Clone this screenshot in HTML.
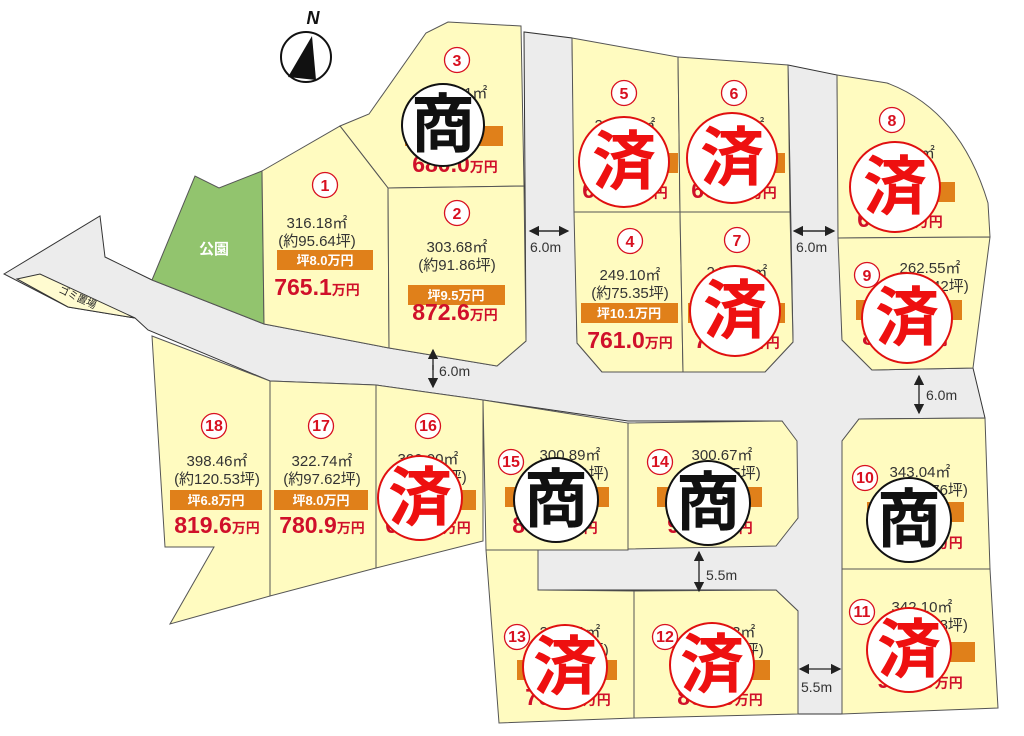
<!DOCTYPE html>
<html><head><meta charset="utf-8"><style>
html,body{margin:0;padding:0;background:#fff;}
svg{display:block;}
text{font-family:"Liberation Sans","Noto Sans CJK JP",sans-serif;}
.lot{fill:#fffbc0;stroke:#555;stroke-width:1;}
.num{fill:#fff;stroke:#d81020;stroke-width:1.3;}
.nt{fill:#d81020;font-size:16px;font-weight:bold;text-anchor:middle;}
.ar{fill:#333;font-size:15px;text-anchor:middle;}
.bar{fill:#e0801a;}
.bt{fill:#fff;font-size:13px;font-weight:bold;text-anchor:middle;}
.pr{fill:#d0102a;font-size:23px;font-weight:bold;text-anchor:middle;}
.dim{fill:#333;font-size:14px;}
</style></head><body>
<svg width="1024" height="736" viewBox="0 0 1024 736" xmlns="http://www.w3.org/2000/svg">
<defs>
<marker id="ah" markerWidth="8" markerHeight="8" refX="7" refY="4" orient="auto"><path d="M0,0 L8,4 L0,8 z" fill="#222"/></marker>
</defs>
<polygon fill="#ececec" stroke="#333" stroke-width="1" points="4,274 100,216 105,257 152,280 264,324 389,348 497,366 526,341 524,32 572,38 577,343 602,372 765,372 793,342 788,65 837,75 842,340 872,370 973,368 985,418 859,419 842,441 842,714 798,714 798,611 776,590 538,590 538,550 776,544 798,518 795,441 782,421 628,421 483,400 376,385 270,381 148,330 135,318 68,307"/>
<polygon fill="#fffbd0" stroke="#333" stroke-width="1" points="17,279 40,274 135,318 68,307"/>
<text x="0" y="0" font-size="10" fill="#222" transform="translate(58,292) rotate(25)">ゴミ置場</text>
<polygon fill="#92c46e" stroke="#555" points="152,280 195,176 219,188 262,171 264,324"/>
<text x="214" y="254" fill="#fff" font-size="15" font-weight="bold" text-anchor="middle">公園</text>
<polygon class="lot" points="340,126 369,114 426,33 448,22 521,26 524,186 388,188"/>
<polygon class="lot" points="262,171 340,126 388,188 389,348 264,324"/>
<polygon class="lot" points="388,188 524,186 526,341 497,366 389,348"/>
<polygon class="lot" points="572,38 678,57 680,212 574,212"/>
<polygon class="lot" points="678,57 788,65 790,212 680,212"/>
<polygon class="lot" points="574,212 680,212 683,372 602,372 577,343"/>
<polygon class="lot" points="680,212 790,212 793,342 765,372 683,372"/>
<path class="lot" d="M837,75 L887,83 Q960,110 988,203 L990,237 L838,238 Z"/>
<polygon class="lot" points="838,238 990,237 973,368 872,370 842,340"/>
<polygon class="lot" points="152,336 270,381 270,596 170,624 214,547 165,547"/>
<polygon class="lot" points="270,381 376,385 376,568 270,596"/>
<polygon class="lot" points="376,385 483,400 483,541 376,568"/>
<polygon class="lot" points="483,400 628,423 628,550 486,550"/>
<polygon class="lot" points="628,423 782,421 797,441 798,518 776,546 628,549"/>
<polygon class="lot" points="486,550 538,550 538,590 634,591 634,718 499,723"/>
<polygon class="lot" points="634,591 776,590 798,611 798,714 634,718"/>
<polygon class="lot" points="842,441 859,419 985,418 990,569 842,569"/>
<polygon class="lot" points="842,569 990,569 998,708 842,714"/>
<circle cx="306" cy="57" r="25" fill="#fff" stroke="#111" stroke-width="2"/>
<polygon points="312,36 288,77 316,80" fill="#111"/>
<text x="313" y="24" font-size="18" font-weight="bold" font-style="italic" text-anchor="middle" fill="#111">N</text>

<g>
<circle class="num" cx="325" cy="185" r="12.5"/><text class="nt" x="325" y="191">1</text>
<text class="ar" x="317" y="228">316.18㎡</text><text class="ar" x="317" y="246">(約95.64坪)</text>
<rect class="bar" x="277" y="250" width="96" height="20"/><text class="bt" x="325" y="265">坪8.0万円</text>
<text class="pr" x="317" y="295">765.1<tspan font-size="14">万円</tspan></text>

<circle class="num" cx="457" cy="213" r="12.5"/><text class="nt" x="457" y="219">2</text>
<text class="ar" x="457" y="252">303.68㎡</text><text class="ar" x="457" y="270">(約91.86坪)</text>
<rect class="bar" x="408" y="285" width="97" height="20"/><text class="bt" x="456" y="300">坪9.5万円</text>
<text class="pr" x="455" y="320">872.6<tspan font-size="14">万円</tspan></text>

<circle class="num" cx="457" cy="60" r="12.5"/><text class="nt" x="457" y="66">3</text>
<text class="ar" x="457" y="98">340.21㎡</text><rect class="bar" x="405" y="126" width="98" height="20"/>
<text class="pr" x="455" y="172">680.0<tspan font-size="14">万円</tspan></text>

<circle class="num" cx="630" cy="241" r="12.5"/><text class="nt" x="630" y="247">4</text>
<text class="ar" x="630" y="280">249.10㎡</text><text class="ar" x="630" y="298">(約75.35坪)</text>
<rect class="bar" x="581" y="303" width="97" height="20"/><text class="bt" x="629" y="318">坪10.1万円</text>
<text class="pr" x="630" y="348">761.0<tspan font-size="14">万円</tspan></text>

<circle class="num" cx="624" cy="93" r="12.5"/><text class="nt" x="624" y="99">5</text>
<text class="ar" x="625" y="130">262.41㎡</text><rect class="bar" x="581" y="153" width="97" height="20"/>
<text class="pr" x="625" y="198">660.0<tspan font-size="14">万円</tspan></text>

<circle class="num" cx="734" cy="93" r="12.5"/><text class="nt" x="734" y="99">6</text>
<text class="ar" x="734" y="130">262.41㎡</text><rect class="bar" x="688" y="153" width="97" height="20"/>
<text class="pr" x="734" y="198">660.0<tspan font-size="14">万円</tspan></text>

<circle class="num" cx="737" cy="240" r="12.5"/><text class="nt" x="737" y="246">7</text>
<text class="ar" x="737" y="277">249.10㎡</text><rect class="bar" x="688" y="303" width="97" height="20"/>
<text class="pr" x="737" y="348">761.0<tspan font-size="14">万円</tspan></text>

<circle class="num" cx="892" cy="120" r="12.5"/><text class="nt" x="892" y="126">8</text>
<text class="ar" x="905" y="158">290.11㎡</text><rect class="bar" x="858" y="182" width="97" height="20"/>
<text class="pr" x="900" y="227">690.0<tspan font-size="14">万円</tspan></text>

<circle class="num" cx="867" cy="275" r="12.5"/><text class="nt" x="867" y="281">9</text>
<text class="ar" x="930" y="273">262.55㎡</text><text class="ar" x="930" y="291">(約79.42坪)</text>
<rect class="bar" x="856" y="300" width="106" height="20"/>
<text class="pr" x="905" y="345">800.0<tspan font-size="14">万円</tspan></text>

<circle class="num" cx="865" cy="478" r="12.5"/><text class="nt" x="865" y="483" font-size="14">10</text>
<text class="ar" x="920" y="477">343.04㎡</text><text class="ar" x="925" y="495">(約103.76坪)</text>
<rect class="bar" x="867" y="502" width="97" height="20"/>
<text class="pr" x="920" y="548">900.0<tspan font-size="14">万円</tspan></text>

<circle class="num" cx="862" cy="612" r="12.5"/><text class="nt" x="862" y="617" font-size="14">11</text>
<text class="ar" x="922" y="612">342.10㎡</text><text class="ar" x="925" y="630">(約103.48坪)</text>
<rect class="bar" x="873" y="642" width="102" height="20"/>
<text class="pr" x="920" y="688">900.0<tspan font-size="14">万円</tspan></text>

<circle class="num" cx="665" cy="637" r="12.5"/><text class="nt" x="665" y="642" font-size="14">12</text>
<text class="ar" x="725" y="637">300.13㎡</text><text class="ar" x="725" y="655">(約90.78坪)</text>
<rect class="bar" x="672" y="660" width="98" height="20"/>
<text class="pr" x="720" y="705">800.0<tspan font-size="14">万円</tspan></text>

<circle class="num" cx="517" cy="637" r="12.5"/><text class="nt" x="517" y="642" font-size="14">13</text>
<text class="ar" x="570" y="637">293.91㎡</text><text class="ar" x="570" y="655">(約88.90坪)</text>
<rect class="bar" x="517" y="660" width="100" height="20"/>
<text class="pr" x="568" y="705">700.0<tspan font-size="14">万円</tspan></text>

<circle class="num" cx="660" cy="462" r="12.5"/><text class="nt" x="660" y="467" font-size="14">14</text>
<text class="ar" x="722" y="460">300.67㎡</text><text class="ar" x="722" y="478">(約90.95坪)</text>
<rect class="bar" x="657" y="487" width="105" height="20"/>
<text class="pr" x="710" y="533">900.0<tspan font-size="14">万円</tspan></text>

<circle class="num" cx="511" cy="462" r="12.5"/><text class="nt" x="511" y="467" font-size="14">15</text>
<text class="ar" x="570" y="460">300.89㎡</text><text class="ar" x="570" y="478">(約91.01坪)</text>
<rect class="bar" x="505" y="487" width="104" height="20"/>
<text class="pr" x="555" y="533">800.0<tspan font-size="14">万円</tspan></text>

<circle class="num" cx="428" cy="426" r="12.5"/><text class="nt" x="428" y="431" font-size="14">16</text>
<text class="ar" x="428" y="464">300.00㎡</text><text class="ar" x="428" y="482">(約90.75坪)</text>
<rect class="bar" x="382" y="490" width="94" height="20"/>
<text class="pr" x="428" y="533">680.0<tspan font-size="14">万円</tspan></text>

<circle class="num" cx="321" cy="426" r="12.5"/><text class="nt" x="321" y="431" font-size="14">17</text>
<text class="ar" x="322" y="466">322.74㎡</text><text class="ar" x="322" y="484">(約97.62坪)</text>
<rect class="bar" x="274" y="490" width="94" height="20"/><text class="bt" x="321" y="505">坪8.0万円</text>
<text class="pr" x="322" y="533">780.9<tspan font-size="14">万円</tspan></text>

<circle class="num" cx="214" cy="426" r="12.5"/><text class="nt" x="214" y="431" font-size="14">18</text>
<text class="ar" x="217" y="466">398.46㎡</text><text class="ar" x="217" y="484">(約120.53坪)</text>
<rect class="bar" x="170" y="490" width="92" height="20"/><text class="bt" x="216" y="505">坪6.8万円</text>
<text class="pr" x="217" y="533">819.6<tspan font-size="14">万円</tspan></text>
</g>

<g font-size="64" font-weight="bold" text-anchor="middle" font-family="'Noto Sans CJK JP',sans-serif">
<circle cx="443" cy="125" r="41" fill="#fff" stroke="#111" stroke-width="2"/><text x="443" y="147" fill="#111">商</text>
<circle cx="708" cy="503" r="42" fill="#fff" stroke="#111" stroke-width="2"/><text x="708" y="525" fill="#111">商</text>
<circle cx="556" cy="500" r="42" fill="#fff" stroke="#111" stroke-width="2"/><text x="556" y="522" fill="#111">商</text>
<circle cx="909" cy="520" r="42" fill="#fff" stroke="#111" stroke-width="2"/><text x="909" y="542" fill="#111">商</text>
<g fill="#fff" stroke="#e01010" stroke-width="2">
<circle cx="624" cy="162" r="45"/><circle cx="732" cy="158" r="45"/><circle cx="735" cy="311" r="45"/>
<circle cx="895" cy="187" r="45"/><circle cx="907" cy="318" r="45"/><circle cx="420" cy="498" r="42"/>
<circle cx="565" cy="667" r="42"/><circle cx="712" cy="665" r="42"/><circle cx="909" cy="650" r="42"/>
</g>
<g fill="#ee1010">
<text x="624" y="184">済</text><text x="732" y="180">済</text><text x="735" y="333">済</text>
<text x="895" y="209">済</text><text x="907" y="340">済</text><text x="420" y="520">済</text>
<text x="565" y="689">済</text><text x="712" y="687">済</text><text x="909" y="672">済</text>
</g>
</g>

<g stroke="#222" stroke-width="1.3" fill="none">
<line x1="538" y1="231" x2="568" y2="231" marker-end="url(#ah)"/><line x1="560" y1="231" x2="530" y2="231" marker-end="url(#ah)"/>
<line x1="803" y1="231" x2="834" y2="231" marker-end="url(#ah)"/><line x1="825" y1="231" x2="794" y2="231" marker-end="url(#ah)"/>
<line x1="433" y1="365" x2="433" y2="387" marker-end="url(#ah)"/><line x1="433" y1="370" x2="433" y2="350" marker-end="url(#ah)"/>
<line x1="919" y1="395" x2="919" y2="413" marker-end="url(#ah)"/><line x1="919" y1="395" x2="919" y2="376" marker-end="url(#ah)"/>
<line x1="699" y1="572" x2="699" y2="591" marker-end="url(#ah)"/><line x1="699" y1="572" x2="699" y2="552" marker-end="url(#ah)"/>
<line x1="818" y1="669" x2="840" y2="669" marker-end="url(#ah)"/><line x1="818" y1="669" x2="800" y2="669" marker-end="url(#ah)"/>
</g>
<text class="dim" x="530" y="252">6.0m</text>
<text class="dim" x="796" y="252">6.0m</text>
<text class="dim" x="439" y="376">6.0m</text>
<text class="dim" x="926" y="400">6.0m</text>
<text class="dim" x="706" y="580">5.5m</text>
<text class="dim" x="801" y="692">5.5m</text>
</svg>
</body></html>
